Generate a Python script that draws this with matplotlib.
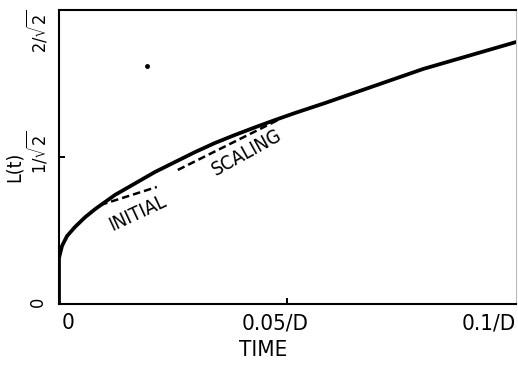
"""L(t) growth curve: initial and scaling regimes."""

import matplotlib

matplotlib.use("Agg")

import matplotlib.pyplot as plt
from matplotlib.transforms import offset_copy

plt.rcParams["font.family"] = ["DejaVu Sans"]
plt.rcParams["font.stretch"] = "condensed"

# time in units of 1/D, length in units of 1/sqrt(2)
time = [0.0, 0.0, 0.00066, 0.00175, 0.0035, 0.0057, 0.00788, 0.01225, 0.01663,
        0.021, 0.0254, 0.0298, 0.0341, 0.0385, 0.0429, 0.0473, 0.0516, 0.0582,
        0.0797, 0.1]
length = [0.0, 0.313, 0.395, 0.462, 0.524, 0.59, 0.645, 0.742, 0.82,
          0.898, 0.966, 1.034, 1.095, 1.15, 1.202, 1.252, 1.299, 1.367,
          1.599, 1.782]

initial_t = [0.009, 0.0214]
initial_l = [0.673, 0.796]
scaling_t = [0.026, 0.0484]
scaling_l = [0.912, 1.259]

speck_t = [0.0193]
speck_l = [1.619]

xticks = [0, 0.05, 0.1]
xlabels = ["0", "0.05/D", "0.1/D"]
yticks = [0, 1, 2]
ylabels = ["0", r"1/$\sqrt{2}$", r"2/$\sqrt{2}$"]

fig = plt.figure(figsize=(5.18, 3.72), dpi=100)
ax = fig.add_axes([0.1139, 0.1828, 0.8822, 0.7903])

ax.plot(time, length, color="black", lw=2.7, solid_capstyle="round",
        solid_joinstyle="round")
ax.plot(initial_t, initial_l, color="black", lw=1.8, linestyle=(0, (3, 1.6)))
ax.plot(scaling_t, scaling_l, color="black", lw=1.8, linestyle=(0, (3, 1.6)))
ax.plot(speck_t, speck_l, "o", color="black", ms=2.5)

ax.text(0.0171, 0.619, "INITIAL", rotation=25, fontsize=14,
        ha="center", va="center", rotation_mode="anchor")
ax.text(0.0411, 1.03, "SCALING", rotation=29, fontsize=14,
        ha="center", va="center", rotation_mode="anchor")

ax.set_xlim(0, 0.1)
ax.set_ylim(0, 2)

ax.set_xticks([xticks[1]])
ax.set_yticks([yticks[1]])
ax.tick_params(direction="in", length=4, width=1.4, labelbottom=False, labelleft=False)

for side in ("left", "bottom", "top"):
    ax.spines[side].set_linewidth(1.5)
ax.spines["right"].set_color("#bbbbbb")
ax.spines["right"].set_linewidth(0.8)

xtrans = ax.get_xaxis_transform()
ha_x = ["left", "center", "right"]
shift_x = [3, -12, 0]
for val, lab, ha, dx in zip(xticks, xlabels, ha_x, shift_x):
    tr = offset_copy(xtrans, fig=fig, x=dx, y=0, units="dots")
    ax.text(val, -0.065, lab, transform=tr, ha=ha, va="center", fontsize=16)

ytrans = ax.get_yaxis_transform()
va_y = ["center", "center", "top"]
shift_y = [2, 5, 0]
for val, lab, va, dy in zip(yticks, ylabels, va_y, shift_y):
    tr = offset_copy(ytrans, fig=fig, x=0, y=dy, units="dots")
    ax.text(-0.046, val, lab, transform=tr, rotation=90, ha="center", va=va, fontsize=13)

fig.text(0.508, 0.059, "TIME", ha="center", va="center", fontsize=16)
fig.text(0.028, 0.551, "L(t)", rotation=90, ha="center", va="center", fontsize=14)

fig.savefig("out.png", dpi=100)
